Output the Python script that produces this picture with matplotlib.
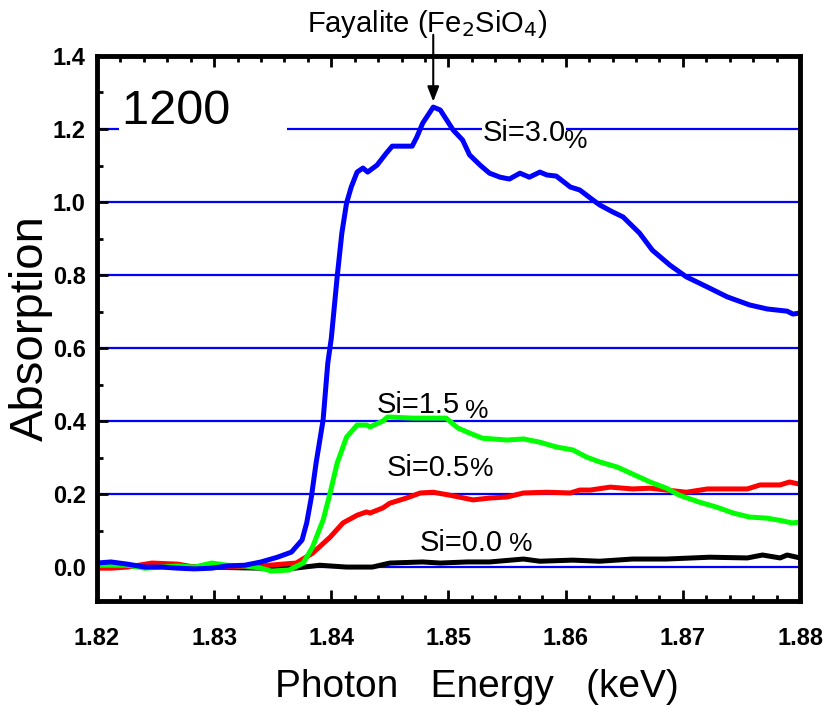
import numpy as np
import matplotlib
matplotlib.use('Agg')
import matplotlib.pyplot as plt
from matplotlib.ticker import MultipleLocator

plt.rcParams['font.family'] = ['Liberation Sans', 'DejaVu Sans']

############################### Datos ###############################
### Si = 3.0 %
E_si30 = [1.8200, 1.8212, 1.8226, 1.8241, 1.8255, 1.8269, 1.8283, 1.8298, 1.8311,
          1.8326, 1.8340, 1.8354, 1.8366, 1.8375, 1.8379, 1.8383, 1.8387, 1.8393,
          1.8397, 1.8400, 1.8405, 1.8409, 1.8413, 1.8417, 1.8422, 1.8427, 1.8431,
          1.8439, 1.8447, 1.8452, 1.8469, 1.8473, 1.8478, 1.8487, 1.8493, 1.8504,
          1.8512, 1.8518, 1.8527, 1.8535, 1.8544, 1.8552, 1.8561, 1.8569, 1.8578,
          1.8584, 1.8592, 1.8604, 1.8612, 1.8621, 1.8629, 1.8640, 1.8649, 1.8663,
          1.8674, 1.8689, 1.8703, 1.8721, 1.8738, 1.8757, 1.8772, 1.8789, 1.8794,
          1.8800]
A_si30 = [0.011, 0.014, 0.008, 0.000, 0.000, -0.003, -0.005, -0.003, 0.003,
          0.005, 0.014, 0.027, 0.041, 0.074, 0.121, 0.192, 0.285, 0.403,
          0.559, 0.627, 0.795, 0.915, 0.997, 1.041, 1.082, 1.093, 1.082,
          1.101, 1.134, 1.153, 1.153, 1.178, 1.216, 1.260, 1.252, 1.197,
          1.170, 1.129, 1.101, 1.079, 1.068, 1.063, 1.079, 1.068, 1.082,
          1.074, 1.071, 1.041, 1.033, 1.011, 0.992, 0.973, 0.959, 0.915,
          0.868, 0.827, 0.795, 0.767, 0.740, 0.718, 0.707, 0.701, 0.693,
          0.696]

### Si = 1.5 %
E_si15 = [1.8200, 1.8226, 1.8241, 1.8255, 1.8269, 1.8283, 1.8298, 1.8311, 1.8326,
          1.8340, 1.8349, 1.8364, 1.8376, 1.8384, 1.8393, 1.8399, 1.8405, 1.8413,
          1.8422, 1.8430, 1.8433, 1.8444, 1.8448, 1.8470, 1.8498, 1.8508, 1.8518,
          1.8529, 1.8550, 1.8564, 1.8578, 1.8592, 1.8606, 1.8618, 1.8629, 1.8644,
          1.8657, 1.8672, 1.8686, 1.8697, 1.8714, 1.8729, 1.8743, 1.8757, 1.8772,
          1.8786, 1.8793, 1.8800]
A_si15 = [0.005, 0.005, -0.003, 0.000, 0.003, 0.000, 0.011, 0.005, 0.003,
          -0.003, -0.011, -0.008, 0.011, 0.055, 0.129, 0.203, 0.285, 0.356,
          0.389, 0.389, 0.384, 0.400, 0.411, 0.408, 0.408, 0.381, 0.367,
          0.353, 0.348, 0.351, 0.342, 0.329, 0.321, 0.301, 0.288, 0.274,
          0.255, 0.233, 0.216, 0.197, 0.178, 0.164, 0.148, 0.137, 0.134,
          0.126, 0.121, 0.123]

### Si = 0.5 %
E_si05 = [1.8200, 1.8212, 1.8226, 1.8247, 1.8269, 1.8283, 1.8311, 1.8340, 1.8358,
          1.8370, 1.8384, 1.8399, 1.8410, 1.8422, 1.8430, 1.8433, 1.8444, 1.8450,
          1.8464, 1.8476, 1.8487, 1.8501, 1.8521, 1.8535, 1.8550, 1.8564, 1.8584,
          1.8604, 1.8612, 1.8621, 1.8638, 1.8657, 1.8672, 1.8686, 1.8703, 1.8721,
          1.8743, 1.8755, 1.8766, 1.8783, 1.8791, 1.8800]
A_si05 = [-0.003, -0.003, 0.000, 0.011, 0.008, 0.000, 0.000, 0.003, 0.008,
          0.011, 0.038, 0.082, 0.121, 0.142, 0.151, 0.148, 0.162, 0.175,
          0.189, 0.203, 0.205, 0.197, 0.184, 0.189, 0.192, 0.203, 0.205,
          0.203, 0.211, 0.211, 0.219, 0.214, 0.216, 0.211, 0.205, 0.214,
          0.214, 0.214, 0.225, 0.225, 0.233, 0.227]

### Si = 0.0 %
E_si00 = [1.8200, 1.8245, 1.8288, 1.8340, 1.8369, 1.8390, 1.8413, 1.8435, 1.8450,
          1.8478, 1.8493, 1.8516, 1.8535, 1.8564, 1.8578, 1.8606, 1.8629, 1.8657,
          1.8686, 1.8723, 1.8755, 1.8768, 1.8783, 1.8789, 1.8800]
A_si00 = [0.003, 0.003, 0.000, -0.003, -0.003, 0.005, 0.000, 0.000, 0.011,
          0.014, 0.011, 0.014, 0.014, 0.022, 0.016, 0.019, 0.016, 0.022,
          0.022, 0.027, 0.025, 0.033, 0.025, 0.033, 0.025]

################################ Gráfica ################################
fig = plt.figure(figsize=[8.28, 7.06], dpi=100)
ax = fig.add_axes([0.1171, 0.1487, 0.8491, 0.7720])

ax.plot(E_si00, A_si00, color='black', lw=3.6, zorder=2)
ax.plot(E_si05, A_si05, color='red', lw=3.6, zorder=2)
ax.plot(E_si15, A_si15, color='#00ff00', lw=3.6, zorder=2)
ax.plot(E_si30, A_si30, color='blue', lw=3.6, zorder=2)

ax.set_xlim(1.82, 1.88)
ax.set_ylim(-0.093, 1.4)

ax.xaxis.set_major_locator(MultipleLocator(0.01))
ax.xaxis.set_minor_locator(MultipleLocator(0.002))
ax.yaxis.set_major_locator(MultipleLocator(0.2))
ax.yaxis.set_minor_locator(MultipleLocator(0.1))
ax.xaxis.set_major_formatter(matplotlib.ticker.FormatStrFormatter('%.2f'))
ax.yaxis.set_major_formatter(matplotlib.ticker.FormatStrFormatter('%.1f'))

ax.grid(axis='y', which='major', color='blue', lw=1.6)
ax.set_axisbelow(True)

for s in ax.spines.values():
    s.set_linewidth(3.5)

ax.tick_params(which='both', direction='in', top=True, right=False, width=2.0)
ax.tick_params(which='major', length=8)
ax.tick_params(which='minor', length=4)
ax.tick_params(axis='x', which='major', pad=19)
ax.tick_params(axis='y', which='major', pad=8)
for lab in ax.get_xticklabels() + ax.get_yticklabels():
    lab.set_fontweight('bold')
    lab.set_fontsize(17)

ax.set_xlabel('Photon   Energy   (keV)', fontsize=28)
ax.xaxis.set_label_coords(0.54, -0.125)
ax.set_ylabel('Absorption', fontsize=34)
ax.yaxis.set_label_coords(-0.062, 0.5)

### Etiquetas de cada curva
ax.text(1.8221, 1.249, '1200    ', fontsize=35, ha='left', va='center',
        bbox=dict(facecolor='white', edgecolor='none', pad=2), zorder=3)
ax.text(1.8529, 1.189, 'Si=3.0', fontsize=21, ha='left', va='center',
        bbox=dict(facecolor='white', edgecolor='none', pad=0.5), zorder=3)
ax.text(1.8599, 1.166, '%', fontsize=19, ha='left', va='center')
ax.text(1.8439, 0.444, 'Si=1.5', fontsize=21, ha='left', va='center', zorder=3)
ax.text(1.8514, 0.427, '%', fontsize=19, ha='left', va='center')
ax.text(1.8447, 0.271, 'Si=0.5', fontsize=21, ha='left', va='center')
ax.text(1.8518, 0.268, '%', fontsize=19, ha='left', va='center')
ax.text(1.8475, 0.066, 'Si=0.0', fontsize=21, ha='left', va='center')
ax.text(1.8552, 0.062, '%', fontsize=19, ha='left', va='center')

### Flecha al pico de fayalita
i_pk = int(np.argmax(A_si30))
E_pk, A_pk = E_si30[i_pk], A_si30[i_pk]
ax.annotate('', xy=(E_pk, A_pk + 0.015), xytext=(E_pk, 1.458),
            arrowprops=dict(arrowstyle='-|>,head_length=0.9,head_width=0.35',
                            color='black', lw=1.5, shrinkA=0, shrinkB=0),
            annotation_clip=False)
ax.text(E_pk - 0.0005, 1.466, r'Fayalite (Fe$_2$SiO$_4$)', fontsize=21,
        ha='center', va='baseline', clip_on=False)

fig.savefig('out.png', dpi=100)
